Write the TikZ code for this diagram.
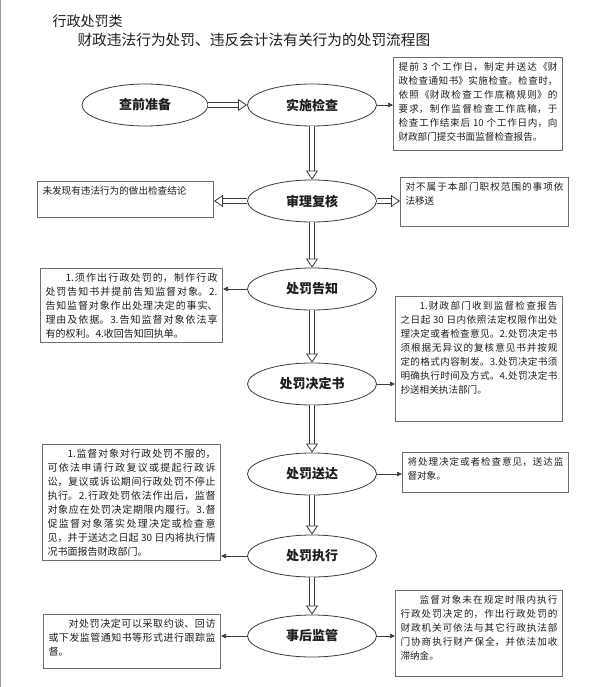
\documentclass[tikz,border=0pt]{standalone}
\usepackage{fontspec}
\setmainfont{Noto Sans CJK SC}
\usetikzlibrary{arrows.meta,shapes.geometric}
\XeTeXlinebreaklocale "zh"
\XeTeXlinebreakskip=0pt plus 1pt
\definecolor{InkLine}{HTML}{3C3C3C}
\definecolor{PanelEdge}{HTML}{6E6E6E}
\definecolor{PageEdge}{HTML}{9A9A9A}
\definecolor{Ink}{HTML}{1E1E1E}

\begin{document}
\begin{tikzpicture}[x=1pt,y=-1pt,
    stage/.style={ellipse,draw=InkLine,line width=0.8pt,minimum width=129pt,
      minimum height=42pt,inner sep=0pt,text=Ink,font=\fontsize{13}{15}\selectfont\bfseries},
    panel/.style={draw=PanelEdge,line width=1pt,anchor=north west,align=justify,
      inner xsep=5pt,inner ysep=4pt,text height=9pt,text=Ink,
      font=\fontsize{9.6}{14}\selectfont},
    widepanel/.style={panel,font=\fontsize{10}{14}\selectfont},
    arrow/.style={-{Triangle[length=5pt,width=4.5pt]},line width=0.7pt,draw=InkLine},
    hollow/.style={double=white,double distance=4.5pt,line width=0.8pt,draw=InkLine,
      -{Triangle[open,length=9pt,width=12pt,line width=0.8pt]}}
  ]
    \fill[white] (0,0) rectangle (600,687);
    \useasboundingbox (0,0) rectangle (600,687);
    \draw[PageEdge,line width=1.2pt] (0.6,0) -- (0.6,687);

    % titles
    \node[anchor=west,text=Ink,font=\fontsize{14}{16}\selectfont] (category) at (49,21) {行政处罚类};
    \node[anchor=west,text=Ink,font=\fontsize{14.7}{16}\selectfont] (heading) at (74,40)
      {财政违法行为处罚、违反会计法有关行为的处罚流程图};

    % main stages
    \node[stage,minimum width=126pt] (prepare) at (145,105) {查前准备};
    \node[stage] (inspect) at (312,105) {实施检查};
    \node[stage] (review) at (312,201) {审理复核};
    \node[stage] (notify) at (312,289) {处罚告知};
    \node[stage] (decide) at (312,384) {处罚决定书};
    \node[stage] (deliver) at (312,474) {处罚送达};
    \node[stage] (enforce) at (312,556) {处罚执行};
    \node[stage] (follow) at (312,636) {事后监管};

    % side panels
    \node[panel,text width=159pt,text depth=76pt] (inspectnote) at (393,57)
      {提前 3 个工作日，制定并送达《财\linebreak
       政检查通知书》实施检查。检查时，\linebreak
       依照《财政检查工作底稿规则》的\linebreak
       要求，制作监督检查工作底稿，于\linebreak
       检查工作结束后 10 个工作日内，向\linebreak
       财政部门提交书面监督检查报告。};
    \node[panel,text width=166pt,text depth=19pt] (nofind) at (37,181)
      {未发现有违法行为的做出检查结论};
    \node[panel,text width=158pt,text depth=32pt] (transfer) at (400,177)
      {对不属于本部门职权范围的事项依\linebreak 法移送};
    \node[widepanel,text width=172pt,text depth=57pt] (notifynote) at (40,268)
      {\hspace*{2em}1.须作出行政处罚的，制作行政\linebreak
       处罚告知书并提前告知监督对象。2.\linebreak
       告知监督对象作出处理决定的事实、\linebreak
       理由及依据。3.告知监督对象依法享\linebreak
       有的权利。4.收回告知回执单。};
    \node[panel,text width=157pt,text depth=108pt] (decidenote) at (395,296)
      {\hspace*{2em}1.财政部门收到监督检查报告\linebreak
       之日起 30 日内依照法定权限作出处\linebreak
       理决定或者检查意见。2.处罚决定书\linebreak
       须根据无异议的复核意见书并按规\linebreak
       定的格式内容制发。3.处罚决定书须\linebreak
       明确执行时间及方式。4.处罚决定书\linebreak
       抄送相关执法部门。};
    \node[panel,text width=156pt,text depth=23pt] (delivernote) at (402,452)
      {将处理决定或者检查意见，送达监\linebreak 督对象。};
    \node[widepanel,text width=168pt,text depth=99pt] (enforcenote) at (42,444)
      {\hspace*{2em}1.监督对象对行政处罚不服的，\linebreak
       可依法申请行政复议或提起行政诉\linebreak
       讼，复议或诉讼期间行政处罚不停止\linebreak
       执行。2.行政处罚依法作出后，监督\linebreak
       对象应在处罚决定期限内履行。3.督\linebreak
       促监督对象落实处理决定或检查意\linebreak
       见，并于送达之日起 30 日内将执行情\linebreak
       况书面报告财政部门。};
    \node[panel,text width=157pt,text depth=69pt] (seizenote) at (395,590)
      {\hspace*{2em}监督对象未在规定时限内执行\linebreak
       行政处罚决定的，作出行政处罚的\linebreak
       财政机关可依法与其它行政执法部\linebreak
       门协商执行财产保全，并依法加收\linebreak
       滞纳金。};
    \node[widepanel,text width=167pt,text depth=37pt] (tracknote) at (43,614)
      {\hspace*{2em}对处罚决定可以采取约谈、回访\linebreak
       或下发监管通知书等形式进行跟踪监\linebreak
       督。};

    % flow
    \draw[hollow] (prepare) -- (inspect);
    \draw[hollow] (inspect) -- (review);
    \draw[hollow] (review) -- (notify);
    \draw[hollow] (notify) -- (decide);
    \draw[hollow] (decide) -- (deliver);
    \draw[hollow] (deliver) -- (enforce);
    \draw[hollow] (enforce) -- (follow);
    \draw[hollow] (review.west) -- (review.west -| nofind.east);
    \draw[hollow] (review.east) -- (review.east -| transfer.west);

    % notes
    \draw[arrow] (inspect.east) -- (inspect.east -| inspectnote.west);
    \draw[arrow] (notify.west) -- (notify.west -| notifynote.east);
    \draw[arrow] (decide.east) -- (decide.east -| decidenote.west);
    \draw[arrow] (deliver.east) -- (deliver.east -| delivernote.west);
    \draw[arrow] (enforce.west) -- (enforce.west -| enforcenote.east);
    \draw[arrow] (follow.east) -- (follow.east -| seizenote.west);
    \draw[arrow] (follow.west) -- (follow.west -| tracknote.east);
\end{tikzpicture}
\end{document}
